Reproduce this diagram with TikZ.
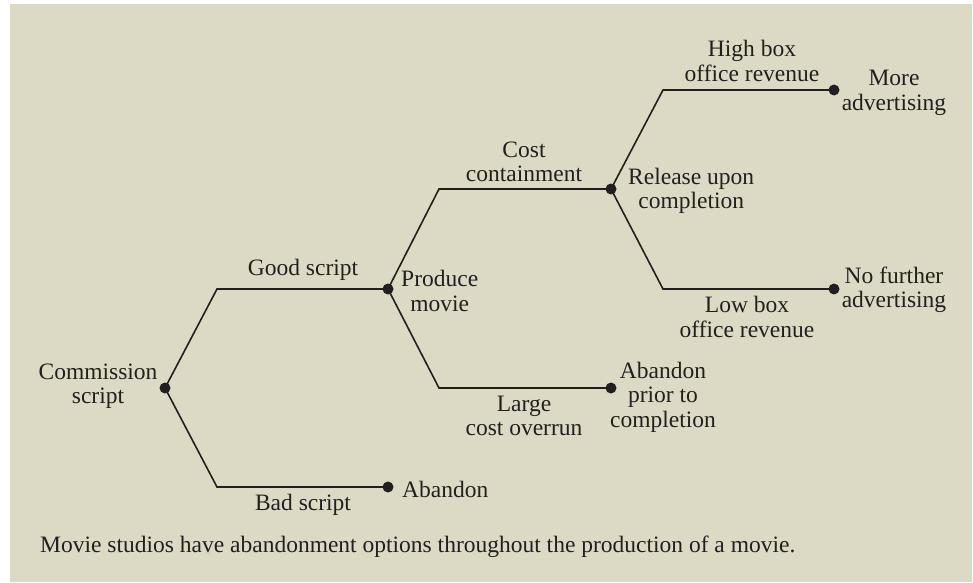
\documentclass[tikz,border=0pt]{standalone}
\usepackage{fontspec}
\setmainfont{Liberation Serif}
\definecolor{bgc}{RGB}{220,218,196}
\definecolor{ink}{RGB}{35,31,32}
\begin{document}
\begin{tikzpicture}[x=1pt,y=-1pt,
  dot/.style={circle,fill=ink,draw=none,minimum size=11pt,inner sep=0pt},
  lbl/.style={text=ink,align=center,inner sep=0pt,font=\fontsize{23.5}{24.5}\selectfont},
  branch/.style={draw=ink,line width=1.6pt}]
\useasboundingbox (0,0) rectangle (973,582);
\fill[white] (0,0) rectangle (973,582);
\fill[bgc] (10,4) rectangle (972,582);
% decision points
\node[dot] (cs) at (165,388) {};
\node[dot] (pm) at (388,289) {};
\node[dot] (ab) at (388,487) {};
\node[dot] (rc) at (611,189) {};
\node[dot] (ap) at (611,388) {};
\node[dot] (ma) at (834,90) {};
\node[dot] (nf) at (834,289) {};
% corners
\coordinate (g1) at (217,289);
\coordinate (b1) at (217,487);
\coordinate (c1) at (439,189);
\coordinate (l1) at (439,388);
\coordinate (h1) at (663,90);
\coordinate (w1) at (663,289);
% branches
\draw[branch] (cs.center) -- (g1) -- (pm.center);
\draw[branch] (cs.center) -- (b1) -- (ab.center);
\draw[branch] (pm.center) -- (c1) -- (rc.center);
\draw[branch] (pm.center) -- (l1) -- (ap.center);
\draw[branch] (rc.center) -- (h1) -- (ma.center);
\draw[branch] (rc.center) -- (w1) -- (nf.center);
% labels
\node[lbl] (tcs) at (98,386) {Commission\\script};
\node[lbl] (tgs) at (303,270) {Good script};
\node[lbl] (tbs) at (303,505) {Bad script};
\node[lbl,anchor=west] (tab) at (402,489) {Abandon};
\node[lbl,anchor=west] (tpm) at (401,291) {Produce\\movie};
\node[lbl] (tcc) at (524,162) {Cost\\containment};
\node[lbl] (tlc) at (524,416) {Large\\cost overrun};
\node[lbl] (tap) at (663,397) {Abandon\\prior to\\completion};
\node[lbl,anchor=west] (trc) at (628,191) {Release upon\\completion};
\node[lbl] (thb) at (752,61) {High box\\office revenue};
\node[lbl] (tlb) at (747,317) {Low box\\office revenue};
\node[lbl] (tma) at (894,93) {More\\advertising};
\node[lbl] (tnf) at (894,290) {No further\\advertising};
\node[lbl,anchor=west] (cap) at (40,547) {Movie studios have abandonment options throughout the production of a movie.};
\end{tikzpicture}
\end{document}
